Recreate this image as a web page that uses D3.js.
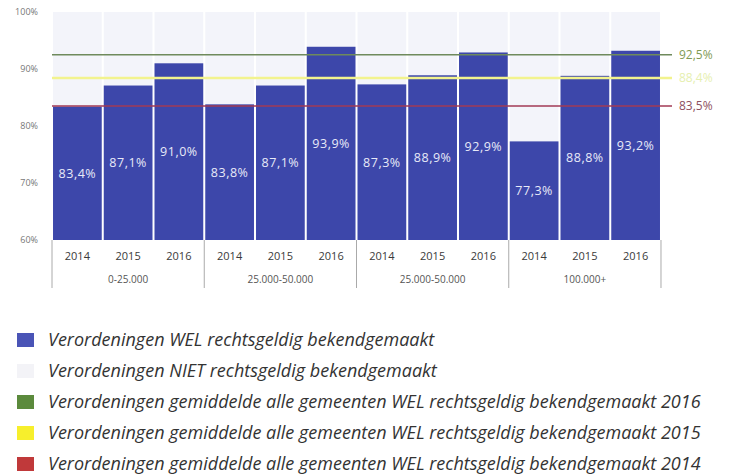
<!DOCTYPE html>
<html lang="nl">
  <head>
    <meta charset="UTF-8" />
    <title>Verordeningen rechtsgeldig bekendgemaakt</title>
    <script src="https://d3js.org/d3.v7.min.js"></script>
    <style>
      body {
        margin: 0;
        background: #fff;
        font-family: 'Open Sans', sans-serif;
      }
      svg {
        display: block;
      }
    </style>
  </head>
  <body>
    <svg width="731" height="475"></svg>

    <script>
      // data
      const groups = ['0-25.000', '25.000-50.000', '25.000-50.000 ', '100.000+'];
      const years = ['2014', '2015', '2016'];
      const welValues = [
        83.4, 87.1, 91.0, 83.8, 87.1, 93.9, 87.3, 88.9, 92.9, 77.3, 88.8, 93.2,
      ];
      const avgLines = [
        { year: '2016', value: 92.5, label: '92,5%' },
        { year: '2015', value: 88.4, label: '88,4%' },
        { year: '2014', value: 83.5, label: '83,5%' },
      ];
      const yTicks = [60, 70, 80, 90, 100];
      const legendItems = [
        'Verordeningen WEL rechtsgeldig bekendgemaakt',
        'Verordeningen NIET rechtsgeldig bekendgemaakt',
        'Verordeningen gemiddelde alle gemeenten WEL rechtsgeldig bekendgemaakt 2016',
        'Verordeningen gemiddelde alle gemeenten WEL rechtsgeldig bekendgemaakt 2015',
        'Verordeningen gemiddelde alle gemeenten WEL rechtsgeldig bekendgemaakt 2014',
      ];

      const lineColors = { 2016: '#6f8a5c', 2015: '#f2f38e', 2014: '#a23a55' };
      const labelColors = { 2016: '#7f9a55', 2015: '#e6efb0', 2014: '#8e4f60' };
      const legendColors = ['#4a54b6', '#f3f3f7', '#5b8a3c', '#f7ef2c', '#c0393a'];

      const bars = [];
      groups.forEach((g, gi) =>
        years.forEach((y, yi) =>
          bars.push({ key: gi + '-' + y, group: gi, year: y, value: welValues[gi * 3 + yi] }),
        ),
      );

      const svg = d3.select('svg');

      const x = d3
        .scaleBand()
        .domain(bars.map((d) => d.key))
        .range([52, 661])
        .paddingInner(0.04)
        .paddingOuter(0.02);

      const y = d3.scaleLinear().domain([60, 100]).range([240, 12]);

      // not-published part (background up to 100%)
      svg
        .selectAll('.bg')
        .data(bars)
        .join('rect')
        .attr('x', (d) => x(d.key))
        .attr('y', y(100))
        .attr('width', x.bandwidth())
        .attr('height', y(60) - y(100))
        .attr('fill', '#f3f4fa');

      // published bars
      svg
        .selectAll('.bar')
        .data(bars)
        .join('rect')
        .attr('x', (d) => x(d.key))
        .attr('y', (d) => y(d.value))
        .attr('width', x.bandwidth())
        .attr('height', (d) => y(60) - y(d.value))
        .attr('fill', '#3d47aa');

      // average lines
      const lineG = svg.append('g');
      lineG
        .selectAll('line')
        .data(avgLines)
        .join('line')
        .attr('x1', 52)
        .attr('x2', 672)
        .attr('y1', (d) => y(d.value))
        .attr('y2', (d) => y(d.value))
        .attr('stroke', (d) => lineColors[d.year])
        .attr('stroke-width', (d) => (d.year === '2015' ? 2.5 : 1.6));
      lineG
        .selectAll('text')
        .data(avgLines)
        .join('text')
        .attr('x', 679)
        .attr('y', (d) => y(d.value))
        .attr('dy', '0.35em')
        .attr('fill', (d) => labelColors[d.year])
        .style('font-size', '12px')
        .text((d) => d.label);

      // value labels
      svg
        .selectAll('.val')
        .data(bars)
        .join('text')
        .attr('x', (d) => x(d.key) + x.bandwidth() / 2)
        .attr('y', (d) => (y(d.value) + y(60)) / 2)
        .attr('dy', '0.35em')
        .attr('text-anchor', 'middle')
        .attr('fill', '#e8eaf8')
        .style('font-size', '12.5px')
        .style('letter-spacing', '0.5px')
        .text((d) => d.value.toFixed(1).replace('.', ',') + '%');

      // y axis labels
      svg
        .selectAll('.ytick')
        .data(yTicks)
        .join('text')
        .attr('x', 38)
        .attr('y', (d) => y(d))
        .attr('dy', '0.35em')
        .attr('text-anchor', 'end')
        .attr('fill', '#777')
        .style('font-size', '9px')
        .text((d) => d + '%');

      // x axis: years and groups
      svg
        .selectAll('.year')
        .data(bars)
        .join('text')
        .attr('x', (d) => x(d.key) + x.bandwidth() / 2)
        .attr('y', 256)
        .attr('dy', '0.35em')
        .attr('text-anchor', 'middle')
        .attr('fill', '#3a3a3a')
        .style('font-size', '11px')
        .text((d) => d.year);

      const groupX = (gi) => x(gi + '-2014') - 1;
      const groupEnd = (gi) => x(gi + '-2016') + x.bandwidth() + 1;

      svg
        .selectAll('.grp')
        .data(groups)
        .join('text')
        .attr('x', (d, i) => (groupX(i) + groupEnd(i)) / 2)
        .attr('y', 279)
        .attr('dy', '0.35em')
        .attr('text-anchor', 'middle')
        .attr('fill', '#555')
        .style('font-size', '10px')
        .text((d) => d.trim());

      const dividers = groups.map((d, i) => groupX(i)).concat([groupEnd(groups.length - 1)]);
      svg
        .selectAll('.div')
        .data(dividers)
        .join('line')
        .attr('x1', (d) => d)
        .attr('x2', (d) => d)
        .attr('y1', 240)
        .attr('y2', 288)
        .attr('stroke', '#aaa')
        .attr('stroke-width', 1);

      // legend
      const legend = svg
        .selectAll('.leg')
        .data(legendItems)
        .join('g')
        .attr('transform', (d, i) => `translate(17,${340 + i * 31})`);
      legend
        .append('rect')
        .attr('x', 0)
        .attr('y', -7)
        .attr('width', 17)
        .attr('height', 14)
        .attr('fill', (d, i) => legendColors[i]);
      legend
        .append('text')
        .attr('x', 31)
        .attr('dy', '0.35em')
        .attr('fill', '#333')
        .style('font-size', '18px')
        .style('font-style', 'italic')
        .text((d) => d);
    </script>
  </body>
</html>
